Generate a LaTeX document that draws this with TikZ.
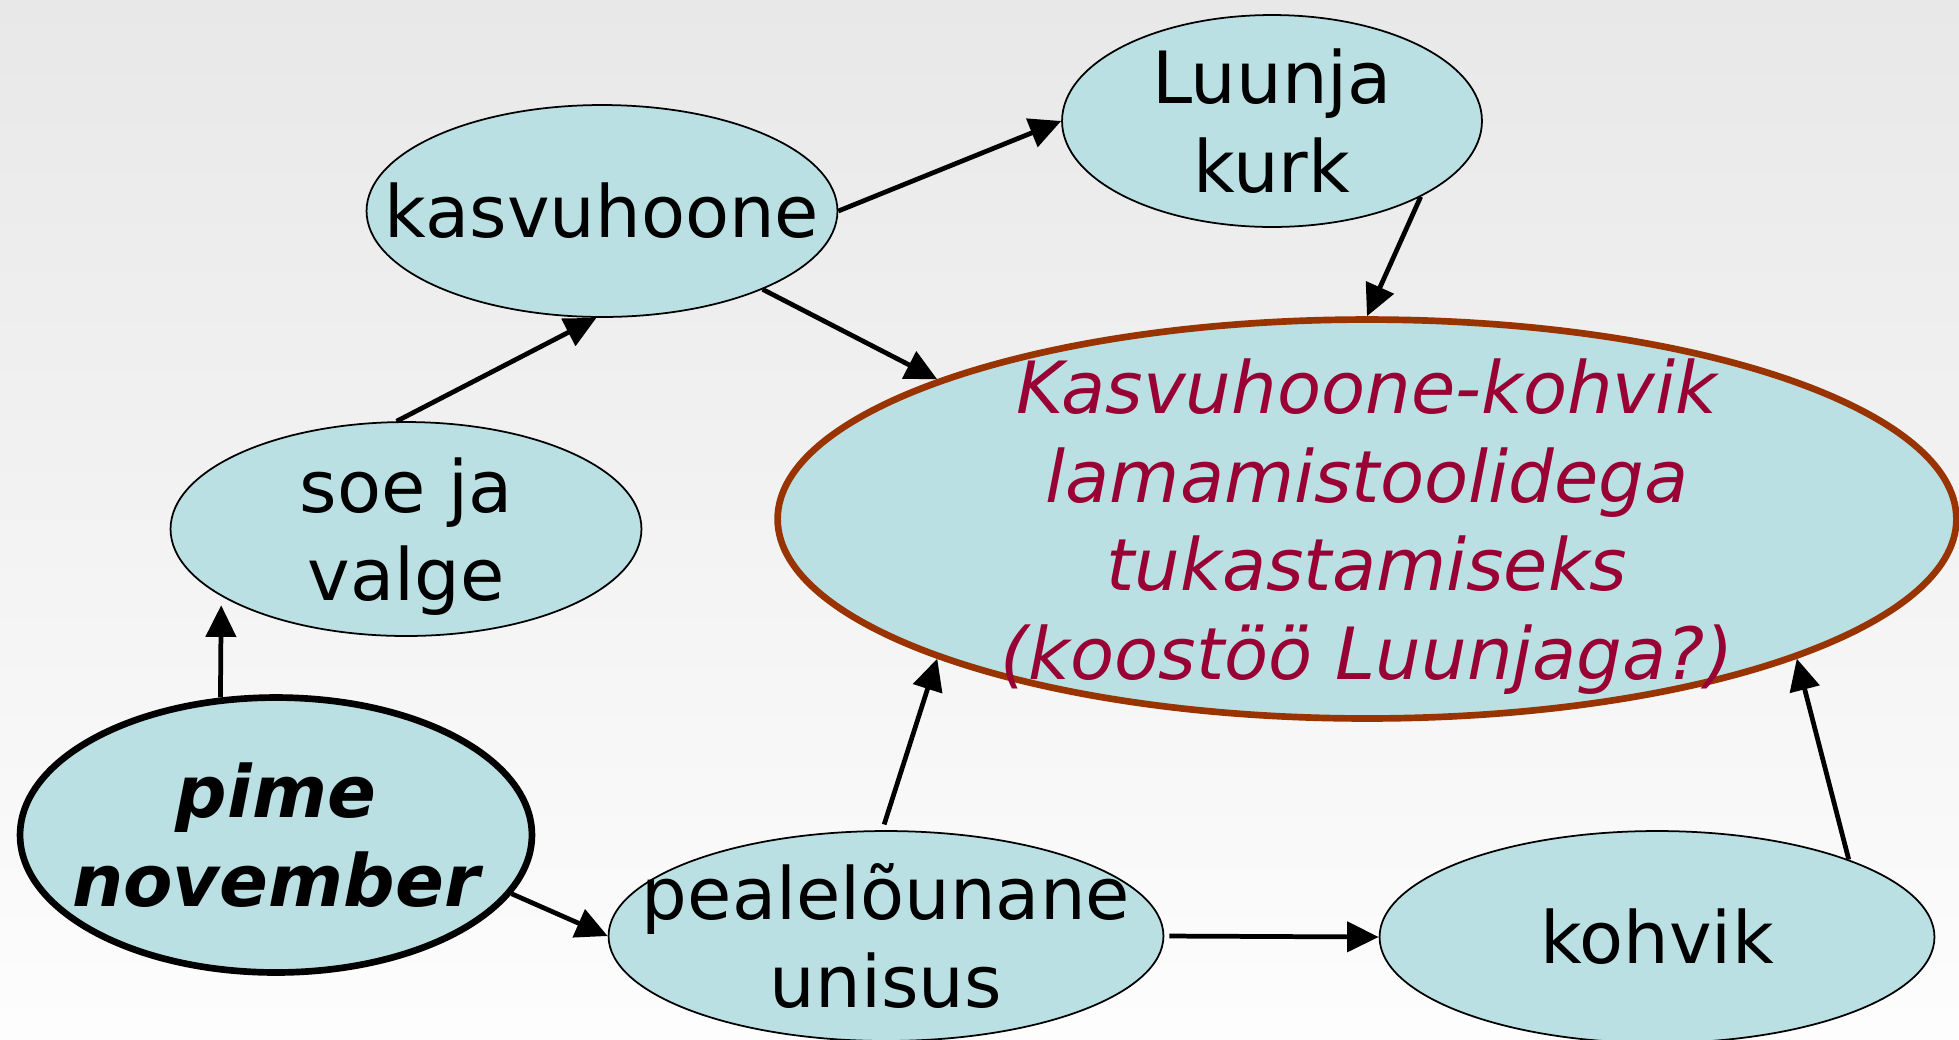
\documentclass[tikz,border=0pt]{standalone}
\usepackage{fontspec}
\setmainfont{DejaVu Sans}
\usetikzlibrary{shapes.geometric}
\usetikzlibrary{arrows.meta}
\definecolor{bubbleFill}{RGB}{186,224,227}
\definecolor{bigBorder}{RGB}{153,51,0}
\definecolor{bigText}{RGB}{153,0,51}
\definecolor{bgTop}{RGB}{232,232,232}
\definecolor{bgBottom}{RGB}{253,253,253}

\begin{document}
\begin{tikzpicture}[x = 0.02cm, y = -0.02cm]
	\tikzstyle{bubbleStyle} = [shape = ellipse, inner sep = 0pt, fill = bubbleFill, draw = black, line width = 1pt]
	\tikzstyle{textStyle} = [align = center, inner sep = 0pt, font = \fontsize{41}{50.5}\selectfont]
	\tikzstyle{arrowStyle} = [-{Triangle[length = 18pt, width = 17pt]}, line width = 2.7pt]
	\useasboundingbox (0,0) rectangle (1959,1039);
	\shade[top color = bgTop, bottom color = bgBottom] (0,0) rectangle (1959,1039);
	\node[bubbleStyle, minimum width = 9.42cm, minimum height = 4.24cm] (kas) at (602,211) {};
	\node[bubbleStyle, minimum width = 8.4cm, minimum height = 4.24cm] (luu) at (1272,121) {};
	\node[bubbleStyle, minimum width = 23.58cm, minimum height = 7.98cm, draw = bigBorder, line width = 3.8pt] (big) at (1367,519) {};
	\node[bubbleStyle, minimum width = 9.42cm, minimum height = 4.28cm] (soe) at (406,529) {};
	\node[bubbleStyle, minimum width = 10.24cm, minimum height = 5.5cm, line width = 3.8pt] (pime) at (276,835) {};
	\node[bubbleStyle, minimum width = 11.1cm, minimum height = 4.2cm] (pea) at (886,936) {};
	\node[bubbleStyle, minimum width = 11.1cm, minimum height = 4.24cm] (koh) at (1657,937) {};
	\node[textStyle] (kasT) at (kas) {kasvuhoone};
	\node[textStyle] (luuT) at (luu) {Luunja\\kurk};
	\node[textStyle, text = bigText, yshift = -0.15cm, font = \fontsize{41}{50.5}\selectfont\itshape] (bigT) at (big) {Kasvuhoone-kohvik\\lamamistoolidega\\tukastamiseks\\(koostöö Luunjaga?)};
	\node[textStyle, yshift = -0.15cm] (soeT) at (soe) {soe ja\\valge};
	\node[textStyle, font = \fontsize{41}{50.5}\selectfont\bfseries\itshape] (pimeT) at (pime) {pime\\november};
	\node[textStyle] (peaT) at (pea) {pealelõunane\\unisus};
	\node[textStyle] (kohT) at (koh) {kohvik};
	\draw[arrowStyle] (kas.east) -- (luu.west);
	\draw[arrowStyle] (kas.-26) -- (big.162);
	\draw[arrowStyle] (luu.-27) -- (big.north);
	\draw[arrowStyle] (soe.95) -- (kas.-93);
	\draw[arrowStyle, shorten >= 0.18cm] (pime.112) -- (soe.200);
	\draw[arrowStyle] (pime.-14) -- (pea.west);
	\draw[arrowStyle, shorten <= 0.12cm] (pea.92) -- (big.198);
	\draw[arrowStyle, shorten <= 0.1cm] (pea.east) -- (koh.west);
	\draw[arrowStyle] (koh.22) -- (big.-18.5);
\end{tikzpicture}
\end{document}
